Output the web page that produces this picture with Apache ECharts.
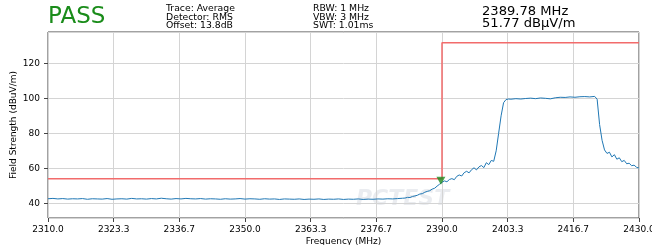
<!DOCTYPE html>
<html lang="en">
<head>
    <meta charset="UTF-8">
    <title>Field Strength - Average</title>
    <script src="https://cdn.jsdelivr.net/npm/echarts@6.0.0/dist/echarts.min.js"></script>
    <style>
        html, body { margin: 0; padding: 0; background: #fff; }
        #chart { width: 652px; height: 245px; }
    </style>
</head>
<body>
    <div id="chart"></div>
    <script>
        // trace: frequency (MHz) and level (dBuV/m)
        const freqs = [
            2310, 2311, 2312, 2313, 2314, 2315, 2316, 2317, 2318, 2319,
            2320, 2321, 2322, 2323, 2324, 2325, 2326, 2327, 2328, 2329,
            2330, 2331, 2332, 2333, 2334, 2335, 2336, 2337, 2338, 2339,
            2340, 2341, 2342, 2343, 2344, 2345, 2346, 2347, 2348, 2349,
            2350, 2351, 2352, 2353, 2354, 2355, 2356, 2357, 2358, 2359,
            2360, 2361, 2362, 2363, 2364, 2365, 2366, 2367, 2368, 2369,
            2370, 2371, 2372, 2373, 2374, 2375, 2376, 2377, 2378, 2379,
            2380, 2381, 2382,
            2382.5, 2383, 2383.5, 2384, 2384.5, 2385, 2385.5, 2386, 2386.5, 2387,
            2387.5, 2388, 2388.5, 2389, 2389.5, 2390, 2390.5, 2391, 2391.5, 2392,
            2392.5, 2393, 2393.5, 2394, 2394.5, 2395, 2395.5, 2396, 2396.5, 2397,
            2397.5, 2398, 2398.5, 2399, 2399.5, 2400, 2400.5,
            2401, 2401.5, 2402, 2402.5, 2403, 2403.5,
            2404, 2405, 2406, 2407, 2408, 2409, 2410, 2411, 2412, 2413,
            2414, 2415, 2416, 2417, 2418, 2419, 2420, 2421,
            2421.5, 2422, 2422.5, 2423, 2423.5, 2424, 2424.5, 2425, 2425.5, 2426,
            2426.5, 2427, 2427.5, 2428, 2428.5, 2429, 2429.5, 2430
        ];
        const levels = [
            42.6, 42.8, 42.5, 42.7, 42.4, 42.6, 42.5, 42.7, 42.3, 42.6,
            42.5, 42.4, 42.7, 42.3, 42.5, 42.6, 42.4, 42.8, 42.5, 42.6,
            42.4, 42.7, 42.5, 42.9, 42.6, 42.4, 42.7, 42.5, 42.8, 42.6,
            42.5, 42.7, 42.4, 42.6, 42.5, 42.3, 42.6, 42.4, 42.5, 42.7,
            42.4, 42.6, 42.5, 42.3, 42.6, 42.4, 42.5, 42.2, 42.5, 42.4,
            42.3, 42.5, 42.2, 42.4, 42.3, 42.5, 42.2, 42.4, 42.3, 42.5,
            42.2, 42.4, 42.3, 42.5, 42.2, 42.4, 42.3, 42.5, 42.4, 42.6,
            42.5, 42.7, 42.9,
            43.0, 43.4, 43.3, 43.9, 44.2, 44.6, 45.3, 45.5, 46.3, 46.8,
            47.2, 48.1, 48.6, 49.8, 50.9, 52.0, 52.8, 52.3, 53.6, 54.1,
            53.5, 55.4, 56.2, 55.6, 57.5, 58.3, 57.4, 59.2, 60.3, 59.1,
            60.8, 61.6, 60.4, 63.2, 62.1, 64.5, 64.0,
            70.0, 80.0, 90.0, 97.5, 99.3, 99.6,
            99.5, 99.8, 99.6, 99.9, 100.1, 99.8, 100.2, 100.0, 99.7, 100.3,
            100.6, 100.5, 100.8, 100.6, 100.9, 101.0, 100.8, 101.1,
            99.5, 85.0, 76.0, 70.5, 68.5, 69.2, 66.5, 67.8, 65.2, 66.0,
            63.8, 64.5, 62.6, 62.9, 61.5, 61.8, 60.6, 60.1
        ];

        // limit line corners
        const limitFreqs = [2310, 2390, 2390, 2430];
        const limitLevels = [54, 54, 131.8, 131.8];

        // marker
        const markerFreq = [2389.78];
        const markerLevel = [51.77];

        const xTicks = ['2310.0', '2323.3', '2336.7', '2350.0', '2363.3', '2376.7', '2390.0', '2403.3', '2416.7', '2430.0'];

        const infoLeft = ['Trace: Average', 'Detector: RMS', 'Offset: 13.8dB'];
        const infoMid = ['RBW: 1 MHz', 'VBW: 3 MHz', 'SWT: 1.01ms'];
        const markerText = ['2389.78 MHz', '51.77 dB\u03bcV/m'];

        const font = 'DejaVu Sans';
        const chart = echarts.init(document.getElementById('chart'));

        const infoGraphics = [];
        infoLeft.forEach(function (t, i) {
            infoGraphics.push({ type: 'text', left: 166, top: 4.5 + i * 8.4,
                style: { text: t, font: '9.3px "' + font + '"', fill: '#000' } });
        });
        infoMid.forEach(function (t, i) {
            infoGraphics.push({ type: 'text', left: 313, top: 4.5 + i * 8.4,
                style: { text: t, font: '9.3px "' + font + '"', fill: '#000' } });
        });
        markerText.forEach(function (t, i) {
            infoGraphics.push({ type: 'text', left: 482, top: 5.5 + i * 11.7,
                style: { text: t, font: '13.1px "' + font + '"', fill: '#000' } });
        });

        const option = {
            animation: false,
            grid: { left: 48, right: 13, top: 32, bottom: 27, outerBoundsMode: 'none',
                show: true, borderColor: '#444', borderWidth: 1 },
            graphic: [
                { type: 'text', left: 48, top: 5.5,
                  style: { text: 'PASS', font: '23px "' + font + '"', fill: '#1a8c1a' } },
                { type: 'text', left: 356, top: 188, z: 0,
                  style: { text: 'PCTEST', font: 'italic bold 22px "' + font + '"', fill: 'rgba(170,180,195,0.25)' } }
            ].concat(infoGraphics),
            xAxis: {
                type: 'value', min: 2310, max: 2430, interval: 40 / 3,
                name: 'Frequency (MHz)', nameLocation: 'middle', nameGap: 19, nameMoveOverlap: false,
                nameTextStyle: { fontFamily: font, fontSize: 9, color: '#000' },
                axisLine: { show: false },
                axisTick: { show: true, length: 4, lineStyle: { color: '#444' } },
                axisLabel: { fontFamily: font, fontSize: 9, color: '#000', margin: 7,
                    formatter: function (v) {
                        const i = Math.round((v - 2310) / (40 / 3));
                        return xTicks[i] !== undefined ? xTicks[i] : '';
                    } },
                splitLine: { show: true, lineStyle: { color: '#d4d4d4' } }
            },
            yAxis: {
                type: 'value', min: 31.6, max: 137.9, splitNumber: 5,
                name: 'Field Strength (dBuV/m)', nameLocation: 'middle', nameGap: 30, nameMoveOverlap: false,
                nameTextStyle: { fontFamily: font, fontSize: 9, color: '#000' },
                axisLine: { show: false },
                axisTick: { show: true, length: 4, lineStyle: { color: '#444' } },
                axisLabel: { fontFamily: font, fontSize: 9, color: '#000', margin: 8,
                    showMinLabel: false, showMaxLabel: false },
                splitLine: { show: true, lineStyle: { color: '#d4d4d4' } }
            },
            series: [
                {
                    type: 'line', showSymbol: false, z: 3,
                    data: freqs.map(function (f, i) { return [f, levels[i]]; }),
                    lineStyle: { color: '#1f77b4', width: 1 }
                },
                {
                    type: 'line', showSymbol: false, z: 2,
                    data: limitFreqs.map(function (f, i) { return [f, limitLevels[i]]; }),
                    lineStyle: { color: '#f26b6b', width: 1.5 }
                },
                {
                    type: 'scatter', z: 4,
                    data: markerFreq.map(function (f, i) { return [f, markerLevel[i]]; }),
                    symbol: 'triangle', symbolRotate: 180, symbolSize: [9, 8], symbolOffset: [0, -2],
                    itemStyle: { color: '#1f8a1f' }
                }
            ]
        };
        chart.setOption(option);
    </script>
</body>
</html>
